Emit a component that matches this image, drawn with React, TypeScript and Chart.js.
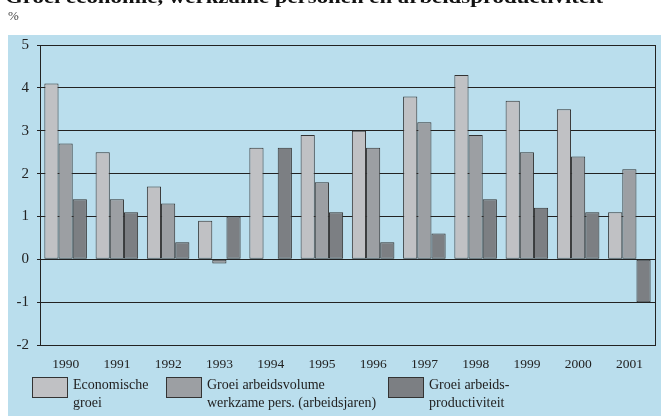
import { useEffect, useRef } from "react";
import { Chart, registerables } from "chart.js";

Chart.register(...registerables);

const years = ["1990", "1991", "1992", "1993", "1994", "1995", "1996", "1997", "1998", "1999", "2000", "2001"];
const economischeGroei = [4.1, 2.5, 1.7, 0.9, 2.6, 2.9, 3.0, 3.8, 4.3, 3.7, 3.5, 1.1];
const groeiArbeidsvolume = [2.7, 1.4, 1.3, -0.1, 0, 1.8, 2.6, 3.2, 2.9, 2.5, 2.4, 2.1];
const groeiProductiviteit = [1.4, 1.1, 0.4, 1.0, 2.6, 1.1, 0.4, 0.6, 1.4, 1.2, 1.1, -1.0];
const seriesNames = ["Economische groei", "Groei arbeidsvolume werkzame pers. (arbeidsjaren)", "Groei arbeidsproductiviteit"];
const legendLines = [
  ["Economische", "groei"],
  ["Groei arbeidsvolume", "werkzame pers. (arbeidsjaren)"],
  ["Groei arbeids-", "productiviteit"],
];
const yMin = -2;
const yMax = 5;
const titleText = "Groei economie, werkzame personen en arbeidsproductiviteit";
const unitText = "%";

const FONT = "'Liberation Serif', 'Times New Roman', serif";
const colors = ["#c0c1c4", "#9c9fa3", "#7c7f83"];
const edge = "#333333";
const panelBlue = "#badeed";

export default function App() {
  const ref = useRef<HTMLCanvasElement | null>(null);

  useEffect(() => {
    const canvas = ref.current;
    if (!canvas) return;

    const decor = {
      id: "decor",
      beforeDraw(chart: any) {
        const ctx = chart.ctx;
        ctx.save();
        ctx.fillStyle = panelBlue;
        ctx.fillRect(8, 35, 653, 381);
        ctx.fillStyle = "#111";
        ctx.font = `bold 19px ${FONT}`;
        ctx.textBaseline = "alphabetic";
        ctx.textAlign = "left";
        const w = ctx.measureText(titleText).width;
        ctx.save();
        ctx.translate(5, 3);
        ctx.scale(598 / w, 1);
        ctx.fillText(titleText, 0, 0);
        ctx.restore();
        ctx.fillStyle = "#444";
        ctx.font = `13px ${FONT}`;
        ctx.fillText(unitText, 8, 20);
        ctx.restore();
      },
      afterDraw(chart: any) {
        const ctx = chart.ctx;
        const a = chart.chartArea;
        ctx.save();
        ctx.strokeStyle = "#222";
        ctx.lineWidth = 1;
        ctx.strokeRect(Math.round(a.left) + 0.5, Math.round(a.top) + 0.5, Math.round(a.right - a.left), Math.round(a.bottom - a.top));
        const boxX = [32, 166, 388];
        const ds = chart.data.datasets;
        ctx.font = `14px ${FONT}`;
        ctx.textBaseline = "middle";
        ctx.textAlign = "left";
        for (let i = 0; i < ds.length; i++) {
          ctx.fillStyle = ds[i].backgroundColor;
          ctx.fillRect(boxX[i], 377, 35, 20);
          ctx.strokeStyle = edge;
          ctx.strokeRect(boxX[i] + 0.5, 377.5, 35, 20);
          ctx.fillStyle = "#222";
          legendLines[i].forEach((ln, j) => ctx.fillText(ln, boxX[i] + 41, 385 + j * 18));
        }
        ctx.restore();
      },
    };

    const chart = new Chart(canvas, {
      type: "bar",
      data: {
        labels: years,
        datasets: [economischeGroei, groeiArbeidsvolume, groeiProductiviteit].map((d, i) => ({
          label: seriesNames[i],
          data: d,
          backgroundColor: colors[i],
          borderColor: edge,
          borderWidth: 1,
          borderSkipped: false,
          categoryPercentage: 0.83,
          barPercentage: 1.0,
        })),
      },
      options: {
        responsive: false,
        animation: false,
        layout: { padding: { left: 0, top: 45, right: 6, bottom: 0 } },
        plugins: { legend: { display: false }, tooltip: { enabled: false }, title: { display: false } },
        scales: {
          y: {
            min: yMin,
            max: yMax,
            ticks: { stepSize: 1, color: "#222", font: { family: FONT, size: 15 }, padding: 8 },
            grid: { color: "#222", lineWidth: 1, tickLength: 3 },
            border: { display: true, color: "#222" },
            afterFit: (s: any) => {
              s.width = 40;
            },
          },
          x: {
            grid: { display: false },
            border: { display: false },
            ticks: { color: "#222", font: { family: FONT, size: 13.5 }, padding: 3 },
            afterFit: (s: any) => {
              s.height = 71;
            },
          },
        },
      },
      plugins: [decor],
    });
    return () => chart.destroy();
  }, []);

  return (
    <div style={{ position: "fixed", left: 0, top: 0, width: 661, height: 416 }}>
      <canvas ref={ref} width={661} height={416} style={{ width: 661, height: 416, display: "block" }} />
    </div>
  );
}
